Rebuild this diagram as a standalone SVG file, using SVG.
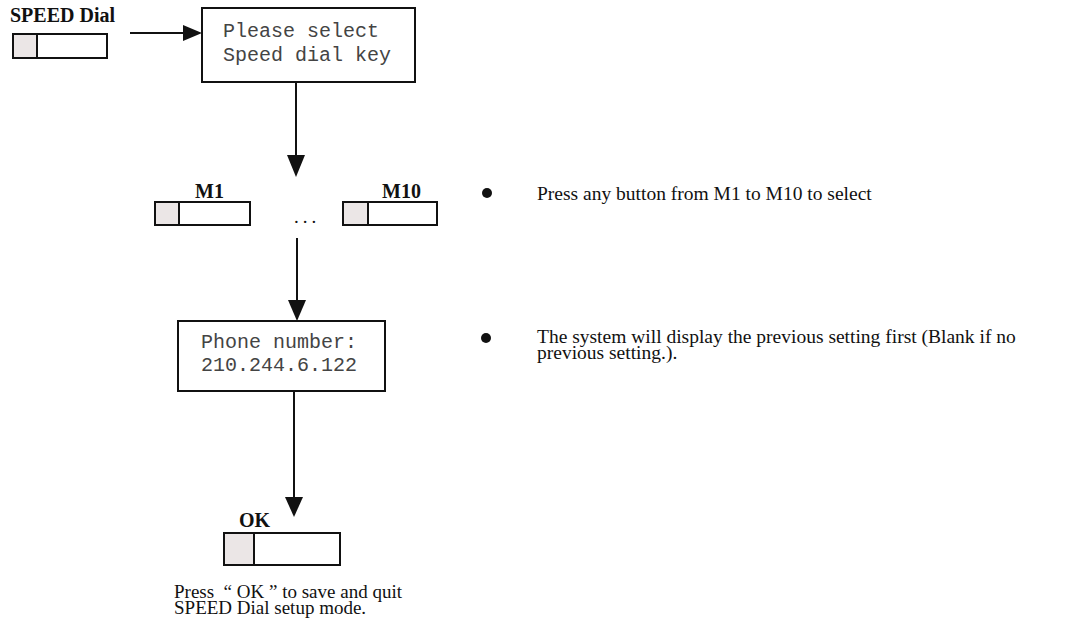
<svg xmlns="http://www.w3.org/2000/svg" width="1068" height="628" viewBox="0 0 1068 628">
<defs>
<style>
.box{fill:#fff;stroke:#111;stroke-width:2}
.cell{fill:#ebe6e6;stroke:#111;stroke-width:2}
.key{fill:#fff;stroke:#111;stroke-width:2}
.mono{font-family:"Liberation Mono","Courier New",monospace;font-size:20px;fill:#444}
.lbl{font-family:"Liberation Serif","Times New Roman",serif;font-size:20px;font-weight:bold;fill:#111}
.txt{font-family:"Liberation Serif","Times New Roman",serif;font-size:19.5px;fill:#111}
.cap{font-family:"Liberation Serif","Times New Roman",serif;font-size:19px;fill:#111}
.wire{stroke:#111;stroke-width:2;fill:none}
.head{fill:#111}
</style>
</defs>
<rect width="1068" height="628" fill="#fff"/>
<g id="speed-dial-key">
<text class="lbl" x="10" y="22">SPEED Dial</text>
<rect class="key" x="13" y="34" width="94" height="24"/>
<rect class="cell" x="13" y="34" width="24" height="24"/>
</g>
<g id="select-box">
<rect class="box" x="202" y="8" width="213" height="74"/>
<text class="mono" x="223" y="37">Please select</text>
<text class="mono" x="223" y="61">Speed dial key</text>
</g>
<g id="m1-key">
<text class="lbl" x="195" y="198">M1</text>
<rect class="key" x="155" y="202" width="95" height="23"/>
<rect class="cell" x="155" y="202" width="24" height="23"/>
</g>
<g id="ellipsis">
<text class="cap" x="294" y="223" letter-spacing="4">...</text>
</g>
<g id="m10-key">
<text class="lbl" x="382" y="198">M10</text>
<rect class="key" x="343" y="202" width="94" height="23"/>
<rect class="cell" x="343" y="202" width="25" height="23"/>
</g>
<g id="phone-box">
<rect class="box" x="178" y="321" width="207" height="70"/>
<text class="mono" x="201" y="348">Phone number:</text>
<text class="mono" x="201" y="371">210.244.6.122</text>
</g>
<g id="ok-key">
<text class="lbl" x="239" y="527">OK</text>
<rect class="key" x="224" y="533" width="116" height="32"/>
<rect class="cell" x="224" y="533" width="30" height="32"/>
<text class="cap" x="174" y="598" xml:space="preserve">Press  “ OK ” to save and quit</text>
<text class="cap" x="174" y="614">SPEED Dial setup mode.</text>
</g>
<g id="note-1">
<circle cx="487" cy="193" r="5" fill="#111"/>
<text class="txt" x="537" y="200">Press any button from M1 to M10 to select</text>
</g>
<g id="note-2">
<circle cx="486" cy="338" r="5" fill="#111"/>
<text class="txt" x="537" y="343">The system will display the previous setting first (Blank if no</text>
<text class="txt" x="537" y="359">previous setting.).</text>
</g>
<g id="connectors">
<line class="wire" x1="130" y1="33" x2="186" y2="33"/>
<polygon class="head" points="183,25 202,33 183,41"/>
<line class="wire" x1="296" y1="82" x2="296" y2="158"/>
<polygon class="head" points="287,155 305,155 296,177"/>
<line class="wire" x1="297" y1="238" x2="297" y2="302"/>
<polygon class="head" points="288,300 306,300 297,321"/>
<line class="wire" x1="294" y1="391" x2="294" y2="500"/>
<polygon class="head" points="285,497 303,497 294,517"/>
</g>
</svg>
